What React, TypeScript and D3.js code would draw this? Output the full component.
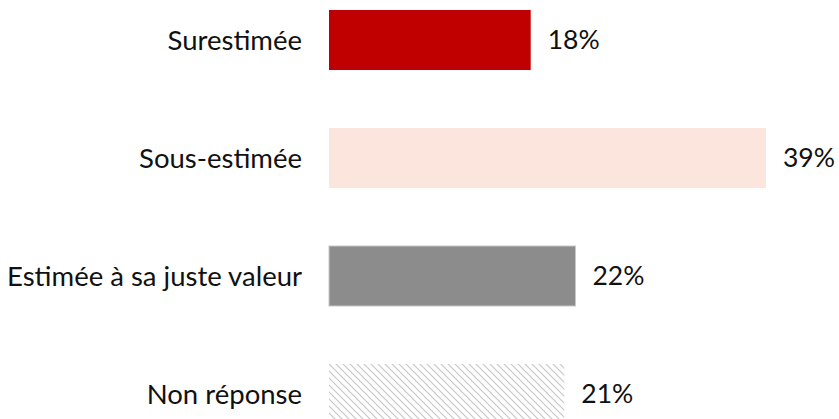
import React, { useRef, useEffect } from "react";
import * as d3 from "d3";

const categories = ["Surestimée", "Sous-estimée", "Estimée à sa juste valeur", "Non réponse"];
const values = [18, 39, 22, 21];
const fills = ["#C00000", "#FBE5DD", "#8C8C8C", "url(#hatch)"];

const W = 839;
const H = 419;

const App: React.FC = () => {
  const svgRef = useRef<SVGSVGElement | null>(null);

  useEffect(() => {
    if (!svgRef.current) return;
    const svg = d3.select(svgRef.current);
    svg.selectAll("*").remove();

    const x = d3.scaleLinear().domain([0, 40]).range([329, 329 + 11.205 * 40]);
    const y = d3.scaleBand<string>()
      .domain(categories)
      .range([-19, -19 + 4 * 118])
      .paddingInner(58 / 118)
      .paddingOuter(29 / 118);

    const defs = svg.append("defs");
    const pat = defs.append("pattern")
      .attr("id", "hatch")
      .attr("patternUnits", "userSpaceOnUse")
      .attr("width", 7)
      .attr("height", 7);
    pat.append("rect").attr("width", 7).attr("height", 7).attr("fill", "#fff");
    pat.append("path")
      .attr("d", "M-1,-1 L8,8 M-1,6 L1,8 M6,-1 L8,1")
      .attr("stroke", "#c8c8c8")
      .attr("stroke-width", 1.2);

    const font = "Lato, 'Open Sans', sans-serif";

    const g = svg.append("g");
    g.selectAll("rect.bar")
      .data(values)
      .enter().append("rect")
      .attr("class", "bar")
      .attr("x", x(0))
      .attr("y", (_, i) => y(categories[i])!)
      .attr("width", d => x(d) - x(0))
      .attr("height", y.bandwidth())
      .attr("fill", (_, i) => fills[i])
      .attr("stroke", (_, i) => (i === 2 ? "#c8c8c8" : "none"))
      .attr("stroke-width", 1);

    g.selectAll("text.val")
      .data(values)
      .enter().append("text")
      .attr("class", "val")
      .attr("x", d => x(d) + 17)
      .attr("y", (_, i) => y(categories[i])! + y.bandwidth() / 2)
      .attr("dy", "0.35em")
      .style("font-family", font)
      .style("font-size", "26.5px")
      .style("font-weight", 400)
      .attr("fill", "#111")
      .text(d => `${d}%`);

    g.selectAll("text.cat")
      .data(categories)
      .enter().append("text")
      .attr("class", "cat")
      .attr("x", 302)
      .attr("y", d => y(d)! + y.bandwidth() / 2)
      .attr("dy", "0.35em")
      .attr("text-anchor", "end")
      .style("font-family", font)
      .style("font-size", "27.5px")
      .style("font-weight", 400)
      .attr("fill", "#111")
      .text(d => d);
  }, []);

  return (
    <svg
      ref={svgRef}
      width={W}
      height={H}
      style={{ position: "fixed", left: 0, top: 0, background: "#fff" }}
    />
  );
};

export default App;
